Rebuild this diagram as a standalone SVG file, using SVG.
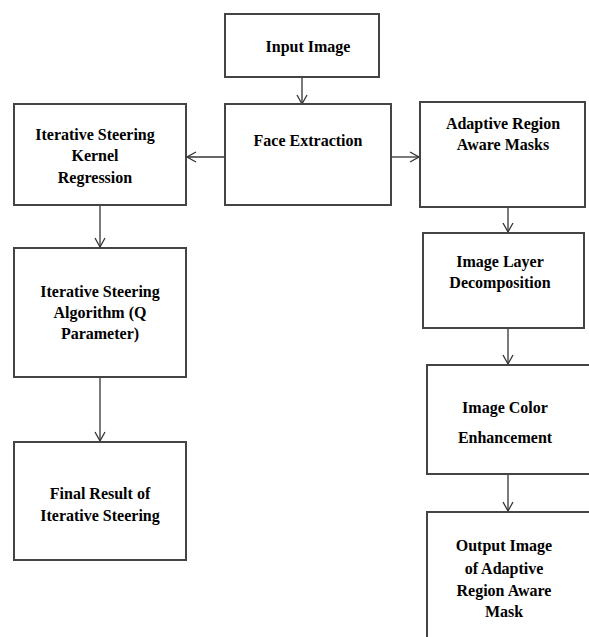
<svg xmlns="http://www.w3.org/2000/svg" width="589" height="637" viewBox="0 0 589 637">
<defs>
<marker id="arr" markerWidth="12" markerHeight="12" refX="10" refY="6" orient="auto" markerUnits="userSpaceOnUse">
<path d="M1,1 L10,6 L1,11" fill="none" stroke="#333" stroke-width="1.3"/>
</marker>
<style>
.box{fill:#fff;stroke:#444;stroke-width:2}
.t{font-family:"Liberation Serif","Times New Roman",serif;font-weight:bold;font-size:16px;fill:#000;text-anchor:middle}
.c{stroke:#333;stroke-width:1.3;fill:none;marker-end:url(#arr)}
</style>
</defs>
<rect width="589" height="637" fill="#fff"/>
<g id="connectors">
<line class="c" x1="302" y1="77" x2="302" y2="104"/>
<line class="c" x1="225" y1="157" x2="187" y2="157"/>
<line class="c" x1="391" y1="157" x2="419" y2="157"/>
<line class="c" x1="100" y1="205" x2="100" y2="247"/>
<line class="c" x1="100" y1="377" x2="100" y2="441"/>
<line class="c" x1="508" y1="207" x2="508" y2="232"/>
<line class="c" x1="508" y1="328" x2="508" y2="364"/>
<line class="c" x1="508" y1="474" x2="508" y2="511"/>
</g>
<g id="input">
<rect class="box" x="225" y="14" width="154" height="63"/>
<text class="t" x="308" y="52">Input Image</text>
</g>
<g id="face">
<rect class="box" x="225" y="104" width="166" height="101"/>
<text class="t" x="308" y="146">Face Extraction</text>
</g>
<g id="iskr">
<rect class="box" x="14" y="104" width="172" height="101"/>
<text class="t" x="95" y="140">Iterative Steering</text>
<text class="t" x="95" y="161">Kernel</text>
<text class="t" x="95" y="183">Regression</text>
</g>
<g id="aram">
<rect class="box" x="420" y="102" width="165" height="105"/>
<text class="t" x="503" y="129">Adaptive Region</text>
<text class="t" x="503" y="150">Aware Masks</text>
</g>
<g id="isa">
<rect class="box" x="14" y="248" width="172" height="129"/>
<text class="t" x="100" y="297">Iterative Steering</text>
<text class="t" x="100" y="318">Algorithm (Q</text>
<text class="t" x="100" y="339">Parameter)</text>
</g>
<g id="final">
<rect class="box" x="14" y="442" width="172" height="118"/>
<text class="t" x="100" y="499">Final Result of</text>
<text class="t" x="100" y="521">Iterative Steering</text>
</g>
<g id="ild">
<rect class="box" x="423" y="233" width="161" height="95"/>
<text class="t" x="500" y="267">Image Layer</text>
<text class="t" x="500" y="288">Decomposition</text>
</g>
<g id="ice">
<rect class="box" x="427" y="365" width="165" height="109"/>
<text class="t" x="505" y="413">Image Color</text>
<text class="t" x="505" y="443">Enhancement</text>
</g>
<g id="output">
<rect class="box" x="427" y="512" width="165" height="140"/>
<text class="t" x="504" y="551">Output Image</text>
<text class="t" x="504" y="574">of Adaptive</text>
<text class="t" x="504" y="596">Region Aware</text>
<text class="t" x="504" y="617">Mask</text>
</g>
</svg>
